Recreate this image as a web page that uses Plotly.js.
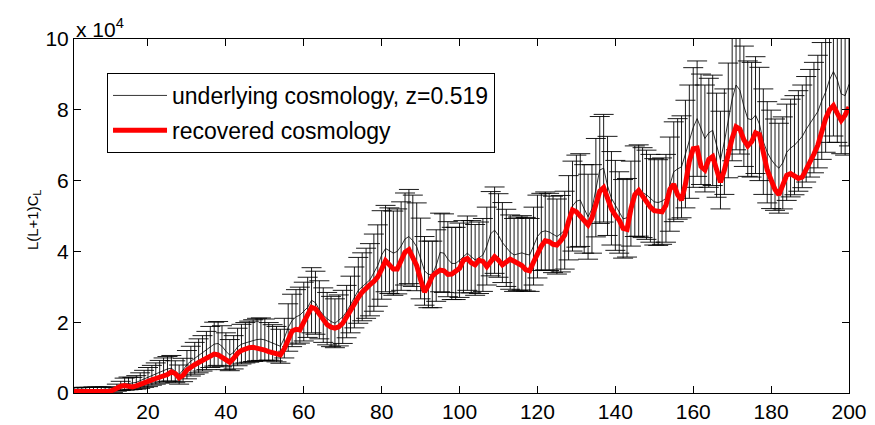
<!DOCTYPE html>
<html>
<head>
<meta charset="utf-8">
<script src="https://cdn.plot.ly/plotly-3.0.1.min.js"></script>
<style>html,body{margin:0;padding:0;background:#fff;}#chart{width:875px;height:425px;}</style>
</head>
<body>
<div id="chart"></div>
<script>
// L(L+1)C_L in units of 1e4, one value per multipole L = 1..200
const underlying = [
0.05,0.05,0.06,0.06,0.06,0.07,0.07,0.07,0.07,0.07,
0.08,0.15,0.2,0.25,0.27,0.27,0.3,0.35,0.4,0.45,
0.5,0.55,0.6,0.65,0.68,0.7,0.6,0.52,0.65,0.8,
0.9,0.98,1.05,1.12,1.2,1.3,1.38,1.4,1.32,1.18,
1.07,1.15,1.3,1.38,1.42,1.45,1.48,1.51,1.52,1.5,
1.46,1.42,1.38,1.32,1.55,1.85,2.05,2.15,2.2,2.3,
2.42,2.62,2.55,2.35,2.2,2.1,2.02,1.97,2.05,2.15,
2.3,2.5,2.7,2.9,3.0,3.1,3.2,3.4,3.6,3.9,
4.08,4.02,3.95,4.0,4.15,4.35,4.42,4.3,4.13,3.8,
3.45,3.35,3.35,3.6,3.97,3.95,3.78,3.66,3.66,3.75,
3.85,3.95,3.85,3.76,3.82,3.9,4.15,4.5,4.6,4.45,
4.25,4.1,3.98,3.9,3.93,3.96,3.92,3.9,4.15,4.42,
4.55,4.58,4.55,4.48,4.42,4.5,4.6,4.95,5.28,5.42,
5.45,5.2,4.98,5.2,5.8,6.3,6.35,5.85,5.5,5.3,
5.1,4.92,4.95,5.35,5.7,5.72,5.66,5.6,5.5,5.4,
5.38,5.42,5.5,5.9,6.25,6.33,6.39,6.75,7.1,7.5,
7.75,7.45,7.19,7.35,7.42,7.0,6.58,7.1,7.7,8.3,
8.7,8.55,8.1,7.75,7.72,7.85,7.6,7.1,6.8,6.6,
6.45,6.35,6.5,6.8,6.92,7.0,7.12,7.25,7.45,7.62,
7.78,7.95,8.25,8.5,8.85,9.08,8.85,8.45,8.4,8.72
];
const recovered = [
0.04,0.04,0.04,0.04,0.04,0.04,0.04,0.04,0.04,0.04,
0.08,0.15,0.19,0.21,0.19,0.17,0.2,0.25,0.3,0.33,
0.37,0.41,0.44,0.47,0.52,0.6,0.55,0.43,0.5,0.65,
0.74,0.8,0.86,0.92,0.98,1.05,1.1,1.08,1.0,0.92,
0.87,0.98,1.12,1.2,1.25,1.28,1.29,1.27,1.24,1.21,
1.17,1.13,1.09,1.08,1.25,1.5,1.75,1.8,1.78,2.0,
2.25,2.42,2.38,2.22,2.05,1.93,1.86,1.83,1.87,1.97,
2.15,2.35,2.52,2.7,2.85,2.97,3.06,3.15,3.28,3.5,
3.74,3.62,3.5,3.5,3.75,3.98,4.05,3.85,3.6,3.2,
2.85,3.05,3.3,3.4,3.47,3.45,3.35,3.36,3.43,3.52,
3.75,3.8,3.68,3.62,3.75,3.72,3.57,3.7,3.85,3.75,
3.62,3.7,3.78,3.72,3.66,3.6,3.48,3.45,3.7,3.95,
4.15,4.3,4.28,4.2,4.18,4.3,4.46,4.85,5.17,5.12,
5.0,4.85,4.75,4.95,5.35,5.7,5.8,5.45,5.2,5.02,
4.88,4.65,4.62,5.2,5.6,5.72,5.55,5.4,5.25,5.15,
5.13,5.12,5.3,5.75,5.9,5.6,5.45,5.9,6.55,6.9,
6.92,6.4,6.3,6.6,6.68,6.3,5.95,6.3,6.82,7.2,
7.52,7.45,7.15,6.98,7.1,7.35,7.3,6.75,6.3,6.02,
5.75,5.6,5.85,6.15,6.2,6.12,6.06,6.1,6.3,6.53,
6.75,7.0,7.4,7.75,8.0,8.12,7.9,7.7,7.85,8.08
];
const errorHalf = [
0.1,0.1,0.1,0.1,0.1,0.1,0.1,0.1,0.1,0.1,
0.07,0.1,0.13,0.17,0.18,0.17,0.19,0.22,0.24,0.27,
0.28,0.3,0.32,0.34,0.35,0.36,0.31,0.27,0.33,0.4,
0.42,0.45,0.48,0.5,0.54,0.58,0.62,0.62,0.58,0.52,
0.44,0.47,0.53,0.56,0.57,0.58,0.59,0.6,0.6,0.59,
0.53,0.51,0.5,0.48,0.56,0.67,0.74,0.77,0.79,0.83,
0.85,0.92,0.89,0.82,0.77,0.74,0.71,0.69,0.72,0.75,
0.74,0.8,0.86,0.93,0.96,0.99,1.02,1.09,1.15,1.25,
1.22,1.21,1.19,1.2,1.25,1.3,1.33,1.29,1.24,1.14,
0.97,0.94,0.94,1.01,1.11,1.11,1.06,1.02,1.02,1.05,
1.02,1.05,1.02,1.0,1.01,1.03,1.1,1.19,1.22,1.18,
1.13,1.09,1.05,1.03,1.04,1.05,1.04,1.03,1.1,1.17,
1.09,1.1,1.09,1.08,1.06,1.08,1.1,1.19,1.27,1.3,
1.31,1.25,1.2,1.25,1.39,1.51,1.52,1.4,1.32,1.27,
1.15,1.11,1.11,1.2,1.28,1.29,1.27,1.26,1.24,1.22,
1.21,1.22,1.24,1.33,1.41,1.42,1.44,1.52,1.6,1.69,
1.63,1.56,1.51,1.54,1.56,1.47,1.38,1.49,1.62,1.74,
1.83,1.8,1.7,1.63,1.62,1.65,1.6,1.49,1.43,1.39,
1.29,1.27,1.3,1.36,1.38,1.4,1.42,1.45,1.49,1.52,
1.56,1.59,1.65,1.7,1.77,1.82,1.77,1.69,1.68,1.74
];
const xTicks = [20,40,60,80,100,120,140,160,180,200];
const yTicks = [0,2,4,6,8,10];
const seriesNames = ["underlying cosmology, z=0.519", "recovered cosmology"];

const ell = underlying.map((_, i) => i + 1);
const FONT = "Liberation Sans, Arial, Helvetica, sans-serif";

const traces = [
  {
    x: ell, y: underlying, type: "scatter", mode: "markers",
    marker: {size: 1, opacity: 0}, showlegend: false, hoverinfo: "skip",
    error_y: {type: "data", array: errorHalf, visible: true, color: "#000", thickness: 0.9, width: 10}
  },
  {
    x: ell, y: underlying, type: "scatter", mode: "lines", name: seriesNames[0],
    line: {color: "#000", width: 0.8}, legendgroup: "a"
  },
  {
    x: ell, y: recovered, type: "scatter", mode: "lines", name: seriesNames[1],
    line: {color: "#ff0000", width: 5}, legendgroup: "b"
  }
];

const axisCommon = {
  showline: true, linecolor: "#000", linewidth: 1, mirror: "ticks",
  ticks: "inside", ticklen: 7, tickcolor: "#000", tickwidth: 1,
  showgrid: false, zeroline: false, automargin: false,
  tickfont: {family: FONT, size: 21, color: "#000"}
};

const layout = {
  width: 875, height: 425,
  margin: {l: 74, r: 26, t: 39, b: 32, pad: 0},
  paper_bgcolor: "#fff", plot_bgcolor: "#fff",
  font: {family: FONT, color: "#000"},
  xaxis: Object.assign({}, axisCommon, {range: [1, 200], tickvals: xTicks, ticktext: xTicks.map(String)}),
  yaxis: Object.assign({}, axisCommon, {range: [0, 10], tickvals: yTicks, ticktext: yTicks.map(String)}),
  showlegend: true,
  legend: {
    x: 0.0426, y: 0.904, xanchor: "left", yanchor: "top",
    bordercolor: "#000", borderwidth: 1, bgcolor: "#fff",
    font: {family: FONT, size: 23, color: "#000"},
    itemwidth: 54,
    traceorder: "grouped", tracegroupgap: 2
  },
  annotations: [
    {text: "x 10<sup>4</sup>", xref: "paper", yref: "paper", x: 0, y: 1, xanchor: "left", yanchor: "bottom",
     showarrow: false, font: {family: FONT, size: 21, color: "#000"}, yshift: -4},
    {text: "L(L+1)C<sub>L</sub>", xref: "paper", yref: "paper", x: -0.067, y: 0.49, textangle: -90,
     showarrow: false, font: {family: FONT, size: 15, color: "#000"}}
  ]
};

Plotly.newPlot("chart", traces, layout, {displayModeBar: false, staticPlot: true});
</script>
</body>
</html>
